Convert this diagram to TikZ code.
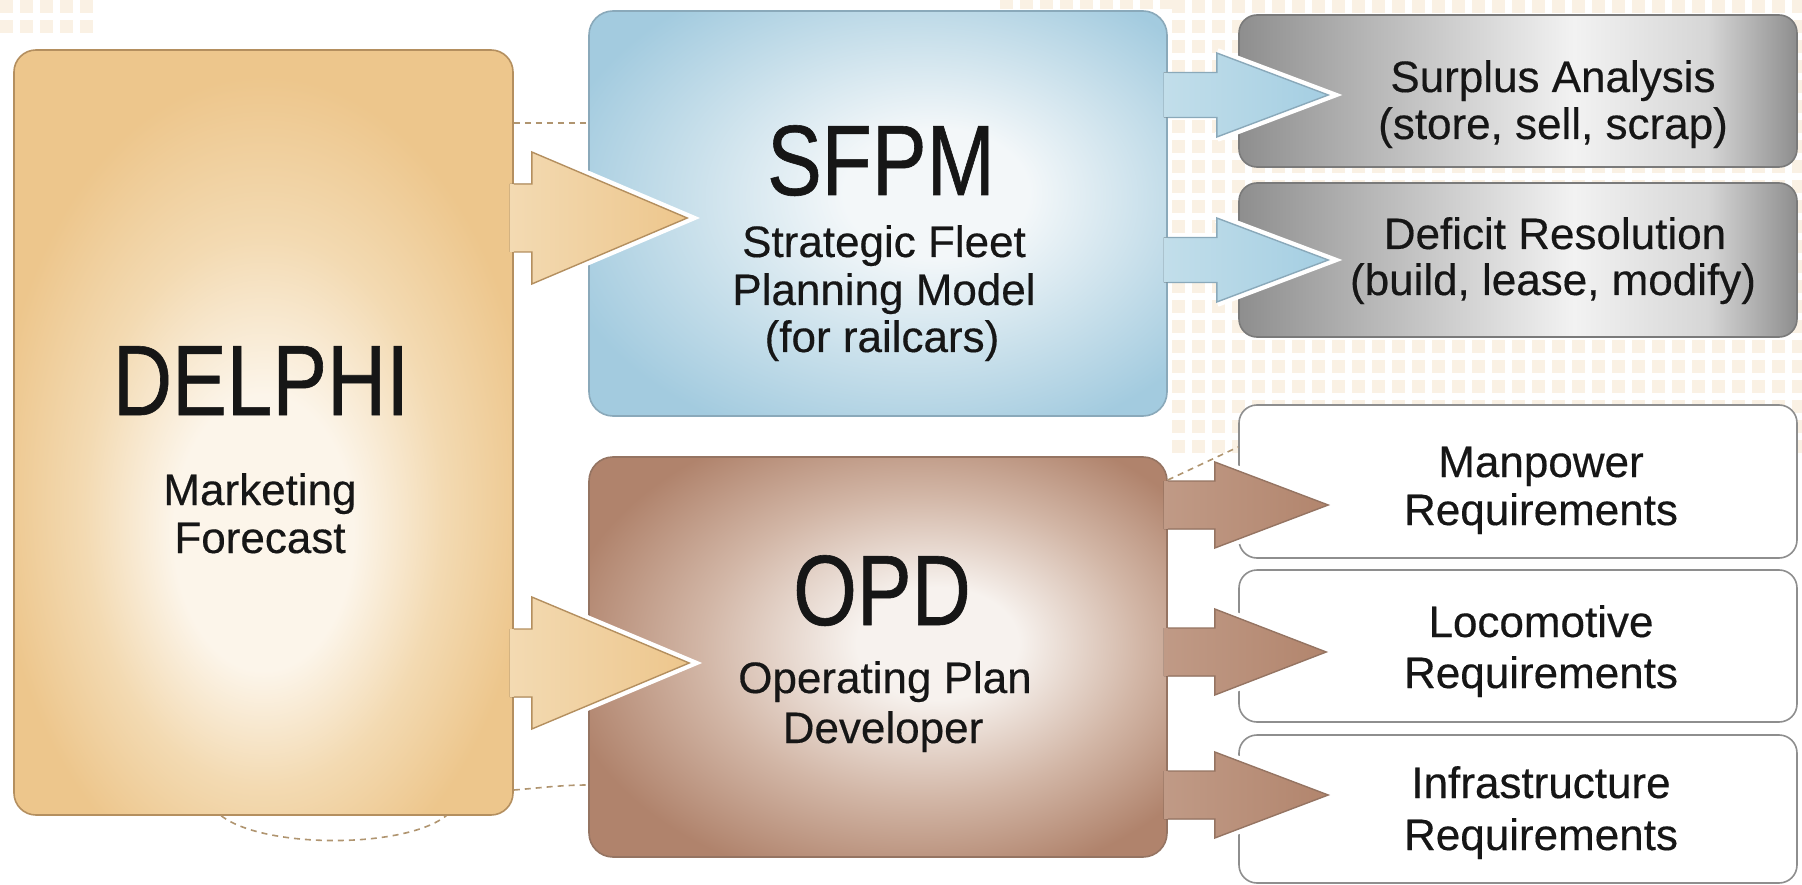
\documentclass[tikz,border=0pt]{standalone}
\usepackage{fontspec}
\setmainfont{Liberation Sans}[FakeBold=0.35]
\newfontfamily\titlefont{Liberation Sans}[FakeStretch=0.82,FakeBold=0.6]
\usetikzlibrary{calc}

\definecolor{dout}{HTML}{EDC68C}
\definecolor{dmid}{HTML}{F3DAB2}
\definecolor{din}{HTML}{FCF5EA}
\definecolor{dedge}{HTML}{B48F5F}
\definecolor{sout}{HTML}{A3CBDF}
\definecolor{smid}{HTML}{C9E0EB}
\definecolor{sin}{HTML}{F3F7F9}
\definecolor{sedge}{HTML}{8AA9BA}
\definecolor{oout}{HTML}{B0836C}
\definecolor{omid}{HTML}{D2B6A6}
\definecolor{oin}{HTML}{F7F2EE}
\definecolor{oedge}{HTML}{957462}
\definecolor{gdark}{HTML}{8E8E8E}
\definecolor{gmid}{HTML}{B4B4B4}
\definecolor{gmid2}{HTML}{D6D6D6}
\definecolor{glight}{HTML}{F2F2F2}
\definecolor{gedge}{HTML}{7A7A7A}
\definecolor{wedge}{HTML}{8E8E8E}
\definecolor{dashc}{HTML}{B09570}
\definecolor{pat}{HTML}{FAF1E4}
\definecolor{ink}{HTML}{161616}
\definecolor{sfa}{HTML}{C2DEEA}
\definecolor{sfb}{HTML}{A4CEE2}
\definecolor{opa}{HTML}{C09A86}
\definecolor{opb}{HTML}{B2856D}

\pgfdeclareradialshading{delphishade}{\pgfpoint{0bp}{-8bp}}{color(0bp)=(din); color(9bp)=(din); color(18bp)=(dmid); color(27bp)=(dout); color(50bp)=(dout)}
\pgfdeclareradialshading{sfpmshade}{\pgfpoint{6bp}{3bp}}{color(0bp)=(sin); color(8bp)=(sin); color(20bp)=(smid); color(31bp)=(sout); color(50bp)=(sout)}
\pgfdeclareradialshading{opdshade}{\pgfpoint{6bp}{2bp}}{color(0bp)=(oin); color(7bp)=(oin); color(19bp)=(omid); color(30bp)=(oout); color(50bp)=(oout)}
\pgfdeclarehorizontalshading{grayshade}{100bp}{color(0bp)=(gdark); color(25bp)=(gdark); color(36bp)=(gmid); color(55bp)=(glight); color(67bp)=(gmid2); color(75bp)=(gdark); color(100bp)=(gdark)}

\tikzset{
  box/.style={rectangle, inner sep=0pt, line width=1.6pt},
  bigbox/.style={box, rounded corners=24pt, minimum width=578pt},
  smallbox/.style={box, rounded corners=18pt, minimum width=558pt},
  delphibox/.style={box, rounded corners=22pt, draw=dedge, shade, shading=delphishade, minimum width=499pt, minimum height=765pt},
  sfpmbox/.style={bigbox, draw=sedge, shade, shading=sfpmshade},
  opdbox/.style={bigbox, draw=oedge, shade, shading=opdshade},
  graybox/.style={smallbox, draw=gedge, shade, shading=grayshade},
  whitebox/.style={smallbox, draw=wedge, fill=white},
  titletext/.style={font=\titlefont\fontsize{100}{110}\selectfont, text=ink, inner sep=0pt, anchor=base},
  subtext/.style={font=\fontsize{44}{48}\selectfont, text=ink, inner sep=0pt, anchor=base},
  dashline/.style={draw=dashc, line width=1.6pt, dash pattern=on 6pt off 5pt},
  delphifill/.style={left color=dmid, right color=dout},
  sfpmfill/.style={left color=sfa, right color=sfb},
  opdfill/.style={left color=opa, right color=opb},
}

% #1 src, #2 dst, #3 y centre, #4 shaft half, #5 head half, #6 head back offset, #7 tip offset, #8 fill style, #9 edge colour
\newcommand\flowarrow[9]{%
  \coordinate (fa-c) at (0,#3);
  \coordinate (fa-e) at (#1.east |- fa-c);
  \coordinate (fa-t) at ($(#2.west |- fa-c)+(#7,0)$);
  \draw[white, line width=10pt, line join=miter, miter limit=10]
    ($(fa-e)+(#6,-#5)$) -- (fa-t) -- ($(fa-e)+(#6,#5)$);
  \fill[#8] ($(fa-e)+(-4,-#4)$) -- ($(fa-e)+(#6,-#4)$) -- ($(fa-e)+(#6,-#5)$) -- (fa-t)
    -- ($(fa-e)+(#6,#5)$) -- ($(fa-e)+(#6,#4)$) -- ($(fa-e)+(-4,#4)$) -- cycle;
  \draw[draw=#9, line width=1.4pt, line join=miter] ($(fa-e)+(0,-#4)$) -- ($(fa-e)+(#6,-#4)$) -- ($(fa-e)+(#6,-#5)$) -- (fa-t)
    -- ($(fa-e)+(#6,#5)$) -- ($(fa-e)+(#6,#4)$) -- ($(fa-e)+(0,#4)$);
}

\begin{document}
\begin{tikzpicture}[x=1pt,y=-1pt]
\useasboundingbox (0,0) rectangle (1802,885);
\fill[white] (0,0) rectangle (1802,885);

% faint background pattern
\foreach \i in {0,...,31} \foreach \j in {0,...,22} {
  \fill[pat] (1172+\i*20,\j*20) rectangle ++(13,13);
}
\foreach \i in {0,...,8} {
  \fill[pat] (1000+\i*20,0) rectangle ++(13,9);
}
\foreach \i in {0,...,4} \foreach \j in {0,1} {
  \fill[pat] (\i*20,\j*20) rectangle ++(13,13);
}

% boxes
\node[delphibox] (delphi) at (263.5,432.5) {};
\node[sfpmbox, minimum height=405pt] (sfpm) at (878,213.5) {};
\node[opdbox, minimum height=400pt] (opd) at (878,657) {};
\node[graybox, minimum height=152pt] (surplus) at (1518,91) {};
\node[graybox, minimum height=154pt] (deficit) at (1518,260) {};
\node[whitebox, minimum height=153pt] (manpower) at (1518,481.5) {};
\node[whitebox, minimum height=152pt] (loco) at (1518,646) {};
\node[whitebox, minimum height=148pt] (infra) at (1518,809) {};

% dashed connectors
\draw[dashline] (delphi.east |- 0,123) -- (sfpm.west |- 0,123);
\draw[dashline] (delphi.east |- 0,790) .. controls (540,788) and (560,785) .. (opd.west |- 0,785);
\draw[dashline] (opd.east |- 0,480) -- (manpower.west |- 0,447);
\coordinate (arcA) at ($(delphi.south west)+(208,0)$);
\coordinate (arcB) at ($(delphi.south west)+(433,0)$);
\draw[dashline] (arcA) .. controls ($(arcA)+(43,33)$) and ($(arcB)+(-42,33)$) .. (arcB);

% block arrows
\flowarrow{delphi}{sfpm}{218}{34}{66}{18}{99}{delphifill}{dedge}
\flowarrow{delphi}{opd}{663}{34}{66}{18}{101}{delphifill}{dedge}
\flowarrow{sfpm}{surplus}{95}{22.5}{42}{49}{90}{sfpmfill}{sedge}
\flowarrow{sfpm}{deficit}{260}{22.5}{42}{49}{90}{sfpmfill}{sedge}
\flowarrow{opd}{manpower}{505}{24}{43}{47}{90}{opdfill}{oedge}
\flowarrow{opd}{loco}{652}{24}{43}{47}{88}{opdfill}{oedge}
\flowarrow{opd}{infra}{795}{24}{43}{47}{90}{opdfill}{oedge}

% texts
\node[titletext] (tdelphi) at (261,415) {DELPHI};
\node[subtext] (tdelphi1) at (260,505) {Marketing};
\node[subtext] (tdelphi2) at (260,553) {Forecast};

\node[titletext] (tsfpm) at (881,195) {SFPM};
\node[subtext] (tsfpm1) at (884,257) {Strategic Fleet};
\node[subtext] (tsfpm2) at (884,305) {Planning Model};
\node[subtext] (tsfpm3) at (882,352) {(for railcars)};

\node[titletext] (topd) at (882,625) {OPD};
\node[subtext] (topd1) at (885,693) {Operating Plan};
\node[subtext] (topd2) at (883,743) {Developer};

\node[subtext] (tsur1) at (1553,92) {Surplus Analysis};
\node[subtext] (tsur2) at (1553,139) {(store, sell, scrap)};
\node[subtext] (tdef1) at (1555,249) {Deficit Resolution};
\node[subtext] (tdef2) at (1553,295) {(build, lease, modify)};
\node[subtext] (tman1) at (1541,477) {Manpower};
\node[subtext] (tman2) at (1541,525) {Requirements};
\node[subtext] (tloc1) at (1541,637) {Locomotive};
\node[subtext] (tloc2) at (1541,688) {Requirements};
\node[subtext] (tinf1) at (1541,798) {Infrastructure};
\node[subtext] (tinf2) at (1541,850) {Requirements};
\end{tikzpicture}
\end{document}
